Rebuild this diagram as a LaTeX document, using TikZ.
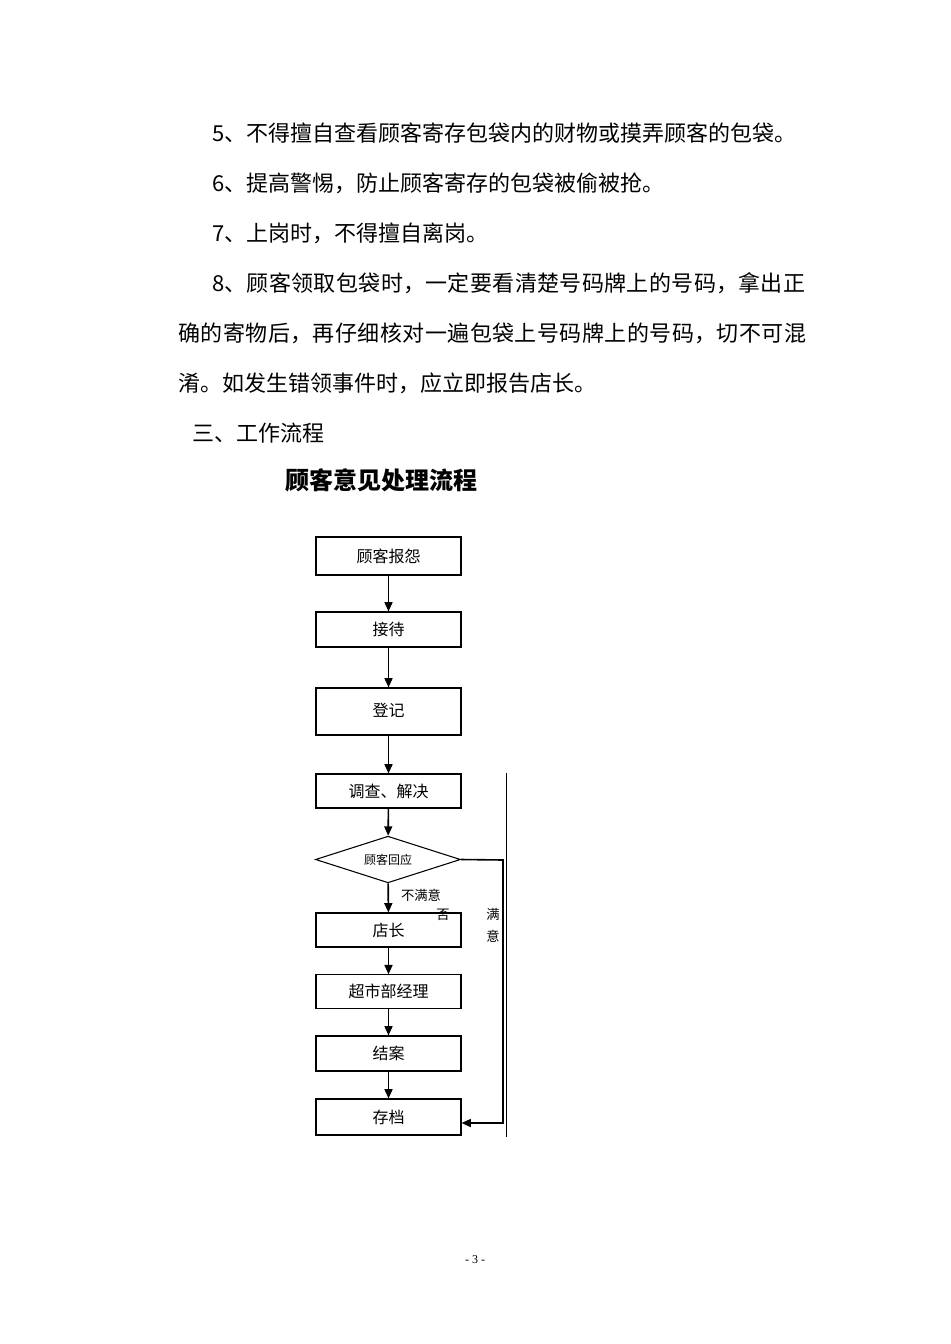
\documentclass[tikz,border=0pt]{standalone}
\usepackage{fontspec}
\setmainfont{Liberation Serif}
\newfontfamily\cjk{Noto Sans CJK SC}
\usetikzlibrary{arrows.meta,shadows,shapes.geometric}
\newcommand{\jline}[2]{\parbox{#1}{\parfillskip=0pt\XeTeXlinebreaklocale "zh"\XeTeXlinebreakskip=0pt plus 4pt\relax #2}}
\begin{document}
\begin{tikzpicture}[x=0.75pt,y=-0.75pt,
  body/.style={anchor=west, inner sep=0pt, font=\cjk\fontsize{16.5}{20}\selectfont},
  fbox/.style={draw, line width=0.8pt, fill=white, minimum width=108.75pt, minimum height=28.5pt, inner sep=0pt,
     font=\cjk\fontsize{12}{14}\selectfont,
     drop shadow={shadow xshift=0.8pt, shadow yshift=-0.8pt, fill=black, opacity=1}},
  dec/.style={draw, diamond, shape aspect=3.1, line width=0.8pt, fill=white, minimum width=108.75pt, minimum height=35pt, inner sep=0pt,
     font=\cjk\fontsize{9}{10}\selectfont},
  arr/.style={line width=1.2pt, -{Triangle[length=7pt,width=6pt]}},
  small/.style={inner sep=0pt, font=\cjk\fontsize{10}{12}\selectfont}
]
\useasboundingbox (0,0) rectangle (950,1344);

% body text
\node[body] (l5) at (212,133) {5、不得擅自查看顾客寄存包袋内的财物或摸弄顾客的包袋。};
\node[body] (l6) at (212,183) {6、提高警惕，防止顾客寄存的包袋被偷被抢。};
\node[body] (l7) at (212,233) {7、上岗时，不得擅自离岗。};
\node[body] (l8a) at (212,283) {\jline{444.75pt}{8、顾客领取包袋时，一定要看清楚号码牌上的号码，拿出正}};
\node[body] (l8b) at (178,333) {\jline{471pt}{确的寄物后，再仔细核对一遍包袋上号码牌上的号码，切不可混}};
\node[body] (l8c) at (178,383) {淆。如发生错领事件时，应立即报告店长。};
\node[body] (sec) at (192,433) {三、工作流程};
\node[body, font=\cjk\bfseries\fontsize{18}{22}\selectfont] (title) at (285,480) {顾客意见处理流程};

% flowchart
\node[fbox] (b1) at (388.5,556) {顾客报怨};
\node[fbox, minimum height=26.25pt] (b2) at (388.5,629.5) {接待};
\node[fbox, minimum height=35.25pt] (b3) at (388.5,711.5) {\raisebox{3pt}{登记}};
\node[fbox, minimum height=25.5pt] (b4) at (388.5,791) {调查、解决};
\node[dec] (d) at (388,859.5) {顾客回应};
\node[fbox, minimum height=25.5pt] (b5) at (388.5,930) {店长};
\node[fbox, minimum height=25pt] (b6) at (388.5,991.5) {超市部经理};
\node[fbox, minimum height=26.25pt] (b7) at (388.5,1053.5) {结案};
\node[fbox, minimum height=27pt] (b8) at (388.5,1117) {存档};

\draw[arr] (b1) -- (b2);
\draw[arr] (b2) -- (b3);
\draw[arr] (b3) -- (b4);
\draw[arr] (b4) -- (d);
\draw[arr] (d) -- (b5);
\draw[arr] (b5) -- (b6);
\draw[arr] (b6) -- (b7);
\draw[arr] (b7) -- (b8);

\coordinate (c1) at (503,860);
\coordinate (c2) at (503,1123);
\draw[arr] (d.east) -- (c1) -- (c2) -- (c2 -| b8.east);

\coordinate (t1) at (506.5,773);
\coordinate (t2) at (506.5,1137);
\draw[line width=0.7pt] (t1) -- (t2);

\node[small] (n1) at (421,895) {不满意};
\node[small] (n2) at (443,915) {否};
\node[small] (n3) at (493,914) {满};
\node[small] (n4) at (493,936) {意};

\node[inner sep=0pt, font=\fontsize{9}{10}\selectfont] (pg) at (475,1260) {- 3 -};
\end{tikzpicture}
\end{document}
